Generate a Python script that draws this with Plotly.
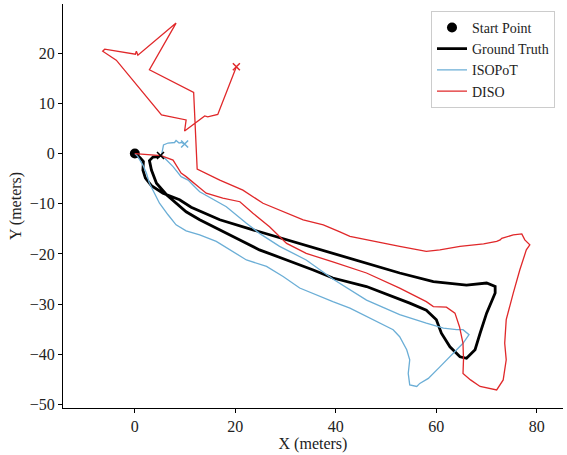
import plotly.graph_objects as go

# ---- data (meters) ----
start_x = [0.0]
start_y = [0.0]

gt_x = [0.0, 1.0, 1.7, 1.6, 2.1, 3.3, 5.6, 8.9, 11.2, 16.9, 23.5, 30.2, 39.4, 46.1, 52.7,
        59.4, 66.0, 70.0, 71.7, 71.7, 70.0, 68.7, 67.7, 66.0, 64.7, 62.7, 61.0, 60.0, 58.0,
        54.7, 46.1, 39.4, 35.5, 30.2, 24.8, 20.9, 16.9, 12.9, 10.2, 8.2, 6.3, 4.3, 3.3, 2.9,
        3.6, 4.6, 5.1]
gt_y = [0.0, -0.8, -1.6, -3.3, -4.9, -6.4, -7.9, -9.2, -10.7, -13.2, -15.2, -17.2, -19.9,
        -21.9, -23.8, -25.5, -26.2, -25.8, -26.5, -27.8, -31.8, -35.8, -39.1, -40.8, -40.5,
        -38.5, -35.8, -33.1, -31.2, -29.8, -26.5, -24.8, -23.2, -21.2, -19.2, -17.2, -15.2,
        -13.2, -11.6, -9.9, -8.2, -5.9, -3.3, -1.4, -0.7, -0.6, -0.4]

isopot_x = [0.0, 0.6, 1.6, 2.3, 2.9, 3.6, 4.9, 6.6, 8.2, 10.2, 12.9, 16.2, 18.9, 22.2, 26.2,
            29.5, 32.8, 36.1, 39.4, 42.8, 46.1, 49.4, 51.4, 52.7, 54.1, 54.7, 54.4, 54.7,
            56.1, 56.7, 58.4, 60.7, 63.3, 65.3, 66.5, 65.3, 64.0, 61.4, 58.0, 52.7, 46.1,
            39.4, 34.1, 28.8, 24.8, 22.2, 18.2, 15.2, 12.9, 11.6, 10.6, 9.2, 7.6, 6.3, 5.3,
            5.5, 5.7, 6.6, 7.9, 8.2, 8.8, 9.2, 9.9]
isopot_y = [0.0, -0.6, -2.3, -3.9, -5.9, -7.3, -9.9, -12.2, -14.2, -15.4, -16.2, -17.5,
            -19.2, -21.2, -22.5, -24.5, -26.8, -28.2, -29.5, -30.8, -32.5, -34.1, -35.1,
            -36.5, -39.1, -41.1, -43.8, -46.1, -46.4, -45.8, -44.8, -42.5, -39.8, -37.8,
            -36.1, -35.1, -35.1, -34.8, -33.8, -32.1, -29.2, -25.0, -21.2, -18.5, -15.9,
            -13.9, -10.6, -8.9, -7.6, -6.3, -5.3, -4.6, -2.6, -1.3, -0.3, 0.7, 1.7, 2.1,
            2.2, 2.6, 2.1, 2.2, 1.9]

diso_x = [0.0, 5.2, 7.6, 9.2, 10.2, 12.2, 14.2, 17.5, 20.9, 23.5, 26.8, 30.2, 34.1, 39.4,
          46.1, 52.7, 58.0, 59.4, 62.0, 63.7, 64.6, 65.3, 65.4, 65.3, 66.8, 68.7, 72.0,
          73.3, 73.9, 73.6, 73.9, 75.3, 76.6, 77.9, 78.6, 77.6, 77.0, 75.3, 73.0, 72.7,
          72.0, 69.4, 64.7, 60.7, 58.0, 52.7, 46.1, 42.8, 40.8, 37.5, 33.5, 29.5, 25.5,
          21.5, 16.9, 12.4, 11.7, 2.9, 8.2, 0.6, 0.3, 0.1, -6.0, -6.4, -3.7, 5.3, 10.2,
          9.9, 11.9, 13.9, 14.5, 16.5, 20.2]
diso_y = [0.0, -0.4, -1.3, -3.9, -4.6, -6.3, -7.9, -8.9, -9.6, -11.9, -14.6, -17.9, -19.9,
          -21.6, -23.8, -26.8, -29.5, -30.5, -30.6, -31.8, -34.5, -37.8, -41.1, -43.8,
          -45.1, -46.4, -47.1, -45.1, -41.1, -37.8, -33.1, -27.8, -23.2, -19.2, -18.2,
          -17.2, -16.0, -16.2, -16.9, -17.2, -17.5, -18.0, -18.5, -19.2, -19.5, -18.5,
          -17.2, -16.5, -15.6, -14.2, -13.2, -11.6, -9.9, -7.3, -5.3, -3.1, 12.2, 16.7,
          26.0, 19.6, 20.4, 19.8, 20.8, 20.4, 18.6, 7.7, 6.7, 4.5, 6.0, 7.5, 7.3, 7.8,
          17.3]

x_ticks = [0, 20, 40, 60, 80]
y_ticks = [-50, -40, -30, -20, -10, 0, 10, 20]

BLUE = "#6baed6"
RED = "#e0282a"
FONT = "Liberation Serif, Times New Roman, serif"

fig = go.Figure()

series = [
    ("Ground Truth", gt_x, gt_y, "black", 2.8),
    ("ISOPoT", isopot_x, isopot_y, BLUE, 1.3),
    ("DISO", diso_x, diso_y, RED, 1.3),
]

fig.add_trace(go.Scatter(x=start_x, y=start_y, mode="markers", name="Start Point",
                         marker=dict(color="black", size=10, symbol="circle")))
for name, xs, ys, col, w in series:
    fig.add_trace(go.Scatter(x=xs, y=ys, mode="lines", name=name,
                             line=dict(color=col, width=w)))
for name, xs, ys, col, w in series:
    fig.add_trace(go.Scatter(x=[xs[-1]], y=[ys[-1]], mode="markers", showlegend=False,
                             marker=dict(symbol="x-thin", size=7, color=col,
                                         line=dict(color=col, width=1.5))))

axis_common = dict(showline=True, linecolor="black", linewidth=1, ticks="outside",
                   ticklen=4, tickwidth=1, tickcolor="black", showgrid=False,
                   zeroline=False, mirror=False, automargin=False,
                   tickfont=dict(family=FONT, size=16, color="#222"))

fig.update_layout(
    width=567, height=455,
    margin=dict(l=63, r=4, t=4, b=47),
    plot_bgcolor="white", paper_bgcolor="white",
    font=dict(family=FONT, color="#222"),
    xaxis=dict(range=[-14.3, 85.2], tickvals=x_ticks,
               title=dict(text="X (meters)", font=dict(family=FONT, size=16, color="#222"),
                          standoff=2),
               **axis_common),
    yaxis=dict(range=[-50.7, 29.8], tickvals=y_ticks,
               title=dict(text="Y (meters)", font=dict(family=FONT, size=16, color="#222"),
                          standoff=4),
               **axis_common),
    legend=dict(x=0.736, xanchor="left", y=0.983, yanchor="top",
                bgcolor="white", bordercolor="#cccccc", borderwidth=1,
                font=dict(family=FONT, size=14, color="#222"),
                tracegroupgap=0, itemwidth=30),
    showlegend=True,
)

fig.write_html("out.html", config={"displayModeBar": False},
               post_script="document.body.style.margin='0';document.body.style.padding='0';")
